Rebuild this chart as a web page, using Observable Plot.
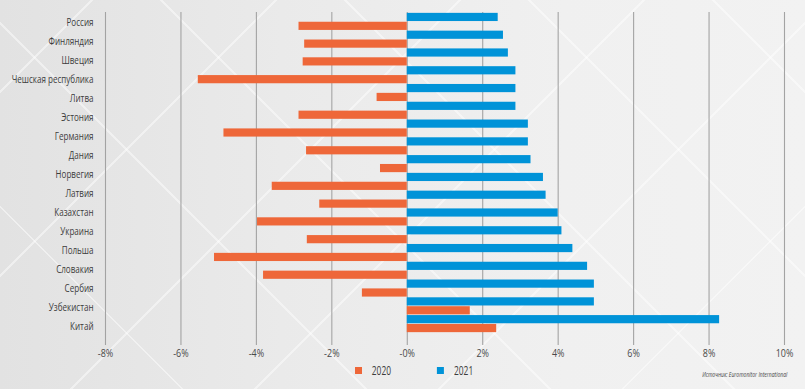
<!DOCTYPE html>
<html>
<head>
<meta charset="utf-8">
<script src="https://cdn.jsdelivr.net/npm/d3@7"></script>
<script src="https://cdn.jsdelivr.net/npm/@observablehq/plot@0.6"></script>
<style>
  html, body { margin: 0; padding: 0; }
  body {
    width: 805px; height: 389px; overflow: hidden;
    background:
      repeating-linear-gradient(45deg, rgba(255,255,255,0) 0 128px, rgba(255,255,255,0.45) 128px 130px),
      repeating-linear-gradient(-45deg, rgba(255,255,255,0) 0 128px, rgba(255,255,255,0.45) 128px 130px),
      linear-gradient(90deg, #e2e2e2 0%, #eaeaea 35%, #f0f0f0 70%, #f2f2f2 100%);
    font-family: "Open Sans", sans-serif;
  }
  #wrap { position: relative; width: 805px; height: 389px; }
  .layer { position: absolute; left: 0; top: 0; }
  #legend { position: absolute; left: 355px; top: 362px; transform: scaleX(0.7); transform-origin: 0 50%; }
  .lg-swatches-wrap { min-height: 0 !important; margin: 0 !important; }
  .lg-swatch { margin-right: 66px !important; }
  .lg-swatch > svg { margin-right: 14px !important; }
  #source {
    position: absolute; right: 18px; top: 368px; white-space: nowrap;
    font-size: 8px; font-style: italic; color: #444; transform-origin: 100% 50%;
  }
</style>
</head>
<body>
<div id="wrap">
  <div id="bars" class="layer"></div>
  <div id="names" class="layer"></div>
  <div id="legend"></div>
  <div id="source">Источник: Euromonitor International</div>
</div>
<script>
// Country labels (17 labels as printed on the chart)
const labels = ["Россия","Финляндия","Швеция","Чешская республика","Литва","Эстония","Германия","Дания","Норвегия","Латвия","Казахстан","Украина","Польша","Словакия","Сербия","Узбекистан","Китай"];
// Bar values, % (18 bar pairs as drawn, top to bottom)
const v2021 = [2.41,2.55,2.68,2.88,2.88,2.88,3.21,3.21,3.28,3.61,3.68,4.00,4.10,4.39,4.78,4.96,4.96,8.28];
const v2020 = [-2.87,-2.72,-2.76,-5.54,-0.80,-2.87,-4.86,-2.67,-0.71,-3.58,-2.32,-3.97,-2.65,-5.11,-3.81,-1.19,1.67,2.37];
const years = ["2020","2021"];
const tickValues = [-8,-6,-4,-2,0,2,4,6,8,10];
const tickLabels = ["-8%","-6%","-4%","-2%","-0%","2%","4%","6%","8%","10%"];
const colors = ["#ee6739","#0093d8"];
const FONT = '"Open Sans", sans-serif';

const rows = [];
const keys = [];
v2021.forEach((v, i) => {
  rows.push({key: i + "-2021", year: "2021", value: v});
  rows.push({key: i + "-2020", year: "2020", value: v2020[i]});
  keys.push(i + "-2021", i + "-2020");
});

// narrow the glyphs (the original uses a condensed typeface)
function condense(svg, k) {
  svg.querySelectorAll("text").forEach((t) => {
    const L = t.getComputedTextLength();
    if (L > 0) {
      t.setAttribute("textLength", L * k);
      t.setAttribute("lengthAdjust", "spacingAndGlyphs");
    }
  });
}

const W = 805, H = 362;

const bars = Plot.plot({
  width: W, height: H,
  marginLeft: 105, marginRight: 21, marginTop: 12, marginBottom: 17,
  style: {background: "transparent", fontFamily: FONT, fontSize: "11.5px", color: "#4a4a4a"},
  x: {domain: [-8, 10], ticks: tickValues, tickFormat: (d) => tickLabels[tickValues.indexOf(d)], tickSize: 0, tickPadding: 3, label: null},
  y: {type: "band", domain: keys, range: [12.5, 332.5], paddingInner: 0.08, paddingOuter: 0.04, axis: null},
  color: {domain: years, range: colors},
  marks: [
    Plot.ruleX(tickValues, {stroke: "#a3a3a3", strokeWidth: 1.1}),
    Plot.barX(rows, {x: "value", y: "key", fill: "year"})
  ]
});
document.getElementById("bars").append(bars);
condense(bars, 0.78);

const names = Plot.plot({
  width: W, height: H,
  marginLeft: 105, marginRight: 21, marginTop: 12, marginBottom: 17,
  style: {background: "transparent", fontFamily: FONT, fontSize: "11.5px", color: "#3c3c3c"},
  y: {type: "band", domain: labels, range: [10.4, 336.8], padding: 0, label: null},
  marks: [
    Plot.axisY({tickSize: 0, tickPadding: 12, label: null})
  ]
});
document.getElementById("names").append(names);
condense(names, 0.7);

const legend = Plot.legend({
  color: {domain: years, range: colors},
  swatchWidth: 10, swatchHeight: 7,
  className: "lg",
  style: {fontFamily: FONT, fontSize: "12px", color: "#3c3c3c", background: "transparent"}
});
document.getElementById("legend").append(legend);

const src = document.getElementById("source");
src.style.transform = "scaleX(" + (85 / src.offsetWidth) + ")";
</script>
</body>
</html>
